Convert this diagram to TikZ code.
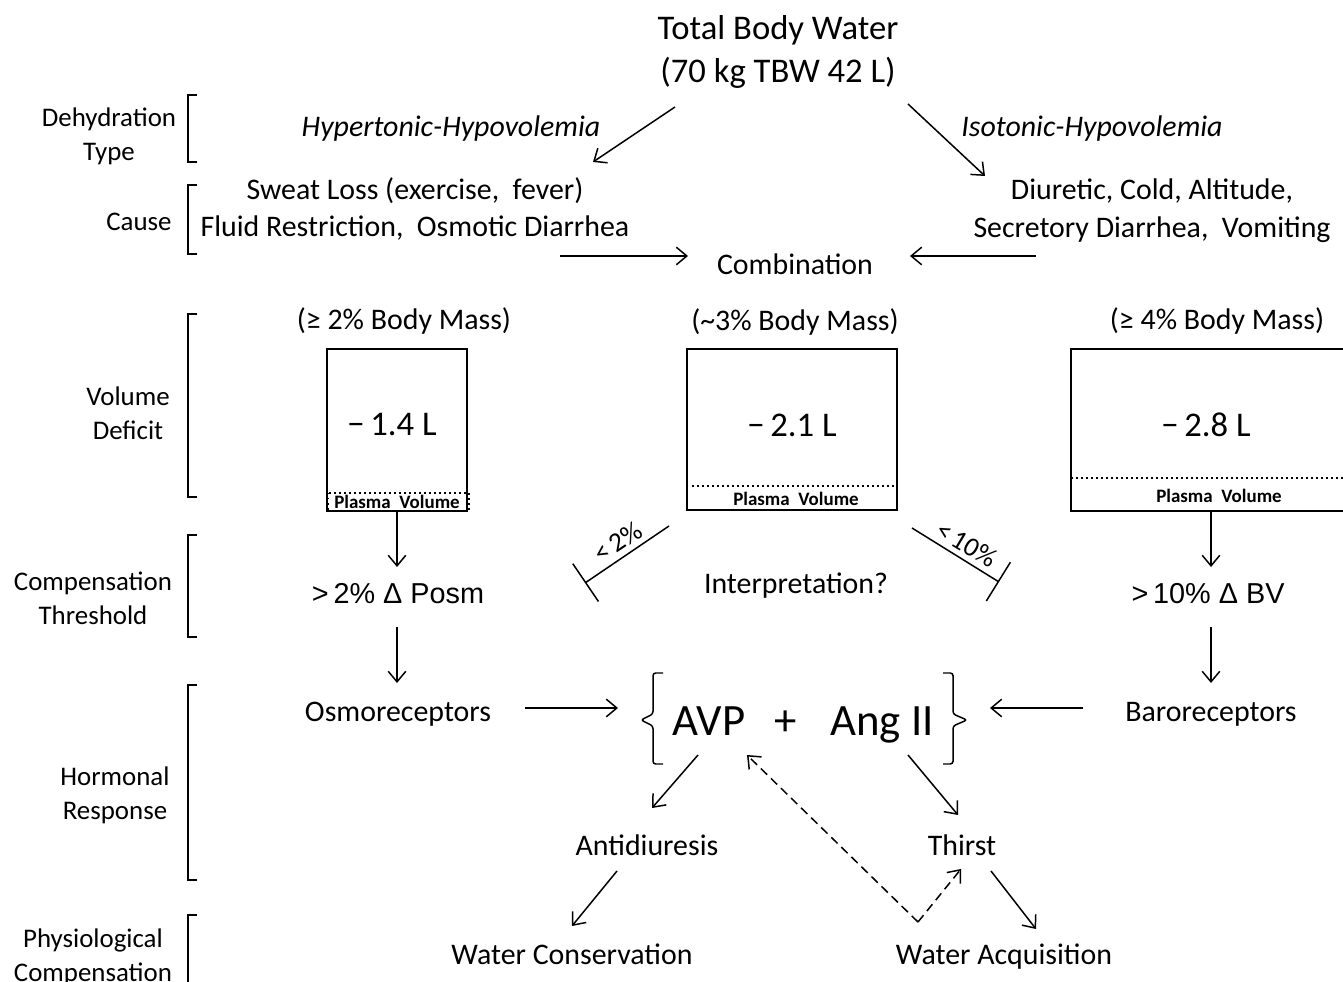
\documentclass[tikz,border=0pt]{standalone}
\usepackage{fontspec}
\setmainfont{Carlito}
\newfontfamily\arialfont{Liberation Sans}
\usetikzlibrary{arrows.meta}
\begin{document}
\begin{tikzpicture}[
            x=0.02cm,
            y=-0.02cm,
            line width=0.85pt,
            arr/.style={-{Straight Barb[length=6pt,width=10pt]}},
            blockarr/.style={-{Bar[width=26pt]}},
            txtm/.style={inner sep=0pt, align=center, font=\fontsize{17}{21.5}\selectfont},
            txt/.style={txtm, text height=11.7pt, text depth=0pt},
            side/.style={inner sep=0pt, align=center, font=\fontsize{15.3}{19.3}\selectfont},
            big/.style={inner sep=0pt, align=center, font=\fontsize{19.7}{24.4}\selectfont},
            delta/.style={inner sep=0pt, text height=11.8pt, text depth=0pt, font=\fontsize{16.4}{20}\arialfont},
            pv/.style={inner sep=0pt, font=\fontsize{10.8}{13}\selectfont\bfseries},
            pct/.style={inner sep=0pt, font=\fontsize{15.5}{17}\selectfont},
            hormone/.style={inner sep=0pt, text height=17.6pt, text depth=0pt, font=\fontsize{25.5}{30}\selectfont}
        ]
        \useasboundingbox (0,0) rectangle (1343,982);

        \coordinate (T1) at (675,107);
        \coordinate (T2) at (593,162);
        \coordinate (T3) at (908,104);
        \coordinate (T4) at (985,176);
        \coordinate (C1) at (560,256);
        \coordinate (C2) at (688,256);
        \coordinate (C3) at (1036,256);
        \coordinate (C4) at (910,256);
        \coordinate (A1) at (397,511);
        \coordinate (A2) at (397,567);
        \coordinate (A3) at (397,627);
        \coordinate (A4) at (397,683);
        \coordinate (B1) at (1211,511);
        \coordinate (B2) at (1211,567);
        \coordinate (B3) at (1211,627);
        \coordinate (B4) at (1211,683);
        \coordinate (L1) at (669,526);
        \coordinate (L2) at (585,583);
        \coordinate (R1) at (912,528);
        \coordinate (R2) at (999,582);
        \coordinate (O1) at (525,708);
        \coordinate (O2) at (618,708);
        \coordinate (O3) at (1083,708);
        \coordinate (O4) at (990,708);
        \coordinate (H1) at (698,755);
        \coordinate (H2) at (652,808);
        \coordinate (H3) at (908,755);
        \coordinate (H4) at (958,815);
        \coordinate (W1) at (617,871);
        \coordinate (W2) at (572,926);
        \coordinate (W3) at (991,871);
        \coordinate (W4) at (1036,929);
        \coordinate (V) at (918,922);
        \coordinate (V1) at (747,755);
        \coordinate (V2) at (961,869);

        \node[side] (dtype) at (109,136) {Dehydration\\Type};
        \node[side] (cause) at (139,222) {Cause};
        \node[side] (vdef) at (128,413) {Volume\\Deficit};
        \node[side] (cthr) at (93,598) {Compensation\\Threshold};
        \node[side] (hresp) at (115,795) {Hormonal\\Response};
        \node[side] (pcomp) at (93,957) {Physiological\\Compensation};
        \foreach \t/\b in {95/162, 185/254, 314/497, 535/637, 685/880, 915/995}
            \draw (197,\t) -- (188,\t) -- (188,\b) -- (197,\b);

        \node[big] (tbw) at (778,52) {Total Body Water\\(70 kg TBW 42 L)};
        \node[txt, font=\fontsize{17}{21.5}\selectfont\itshape] (hyper) at (451,126) {Hypertonic-Hypovolemia};
        \node[txt, font=\fontsize{17}{21.5}\selectfont\itshape] (iso) at (1092,126) {Isotonic-Hypovolemia};
        \draw[arr] (T1) -- (T2);
        \draw[arr] (T3) -- (T4);

        \node[txtm] (sweat) at (415,209) {Sweat Loss (exercise,\ \ fever)\\Fluid Restriction,\ \ Osmotic Diarrhea};
        \node[txtm] (diur) at (1152,211) {Diuretic, Cold, Altitude,\\Secretory Diarrhea,\ \ Vomiting};
        \node[txt] (comb) at (795,264) {Combination};
        \draw[arr] (C1) -- (C2);
        \draw[arr] (C3) -- (C4);

        \node[txt] (massA) at (404,319) {(≥ 2\% Body Mass)};
        \node[txt] (massB) at (795,320) {(\textasciitilde3\% Body Mass)};
        \node[txt] (massC) at (1217,319) {(≥ 4\% Body Mass)};

        \draw (327,349) rectangle (467,511);
        \draw[dotted] (328,493) rectangle (469,511);
        \node[big] (defA) at (392,425) {−\,1.4 L};
        \node[pv] (pvA) at (397,502) {Plasma\ \ Volume};
        \draw (687,349) rectangle (897,510);
        \draw[dotted] (687,486) -- (897,486);
        \node[big] (defB) at (792,425) {−\,2.1 L};
        \node[pv] (pvB) at (796,499) {Plasma\ \ Volume};
        \draw (1071,349) rectangle (1360,511);
        \draw[dotted] (1071,478) -- (1360,478);
        \node[big] (defC) at (1206,425) {−\,2.8 L};
        \node[pv] (pvC) at (1219,496) {Plasma\ \ Volume};

        \draw[arr] (A1) -- (A2);
        \draw[arr] (B1) -- (B2);
        \node[delta] (posm) at (398,593) {>\,2\%\ Δ\ Posm};
        \node[delta] (dbv) at (1208,593) {>\,10\%\ Δ\ BV};
        \node[txt] (interp) at (796,583) {Interpretation?};
        \draw[blockarr] (L1) -- (L2);
        \draw[blockarr] (R1) -- (R2);
        \node[pct, rotate=34] (ltA) at (618,542) {<\,2\%};
        \node[pct, rotate=-31] (ltB) at (967,544) {<\,10\%};
        \draw[arr] (A3) -- (A4);
        \draw[arr] (B3) -- (B4);

        \node[txt] (osmo) at (398,711) {Osmoreceptors};
        \node[txt] (baro) at (1211,711) {Baroreceptors};
        \draw[arr] (O1) -- (O2);
        \draw[arr] (O3) -- (O4);
        \node[hormone] (avp) at (709,720) {AVP};
        \node[hormone] (plus) at (786,720) {+};
        \node[hormone] (ang) at (882,720) {Ang II};
        \draw[rounded corners=1.5pt] (663,673) -- (653,673) -- (653,714) -- (641,720) -- (653,726) -- (653,764) -- (663,764);
        \draw[rounded corners=1.5pt] (943,673) -- (953,673) -- (953,714) -- (967,720) -- (953,726) -- (953,764) -- (943,764);

        \draw[arr] (H1) -- (H2);
        \draw[arr] (H3) -- (H4);
        \node[txt] (antid) at (647,845) {Antidiuresis};
        \node[txt] (thirst) at (962,845) {Thirst};
        \draw[arr] (W1) -- (W2);
        \draw[arr] (W3) -- (W4);
        \node[txt] (wcons) at (572,954) {Water Conservation};
        \node[txt] (wacq) at (1004,954) {Water Acquisition};
        \draw[arr, dash pattern=on 5pt off 3pt] (V) -- (V1);
        \draw[arr, dash pattern=on 5pt off 3pt] (V) -- (V2);
    \end{tikzpicture}
\end{document}
